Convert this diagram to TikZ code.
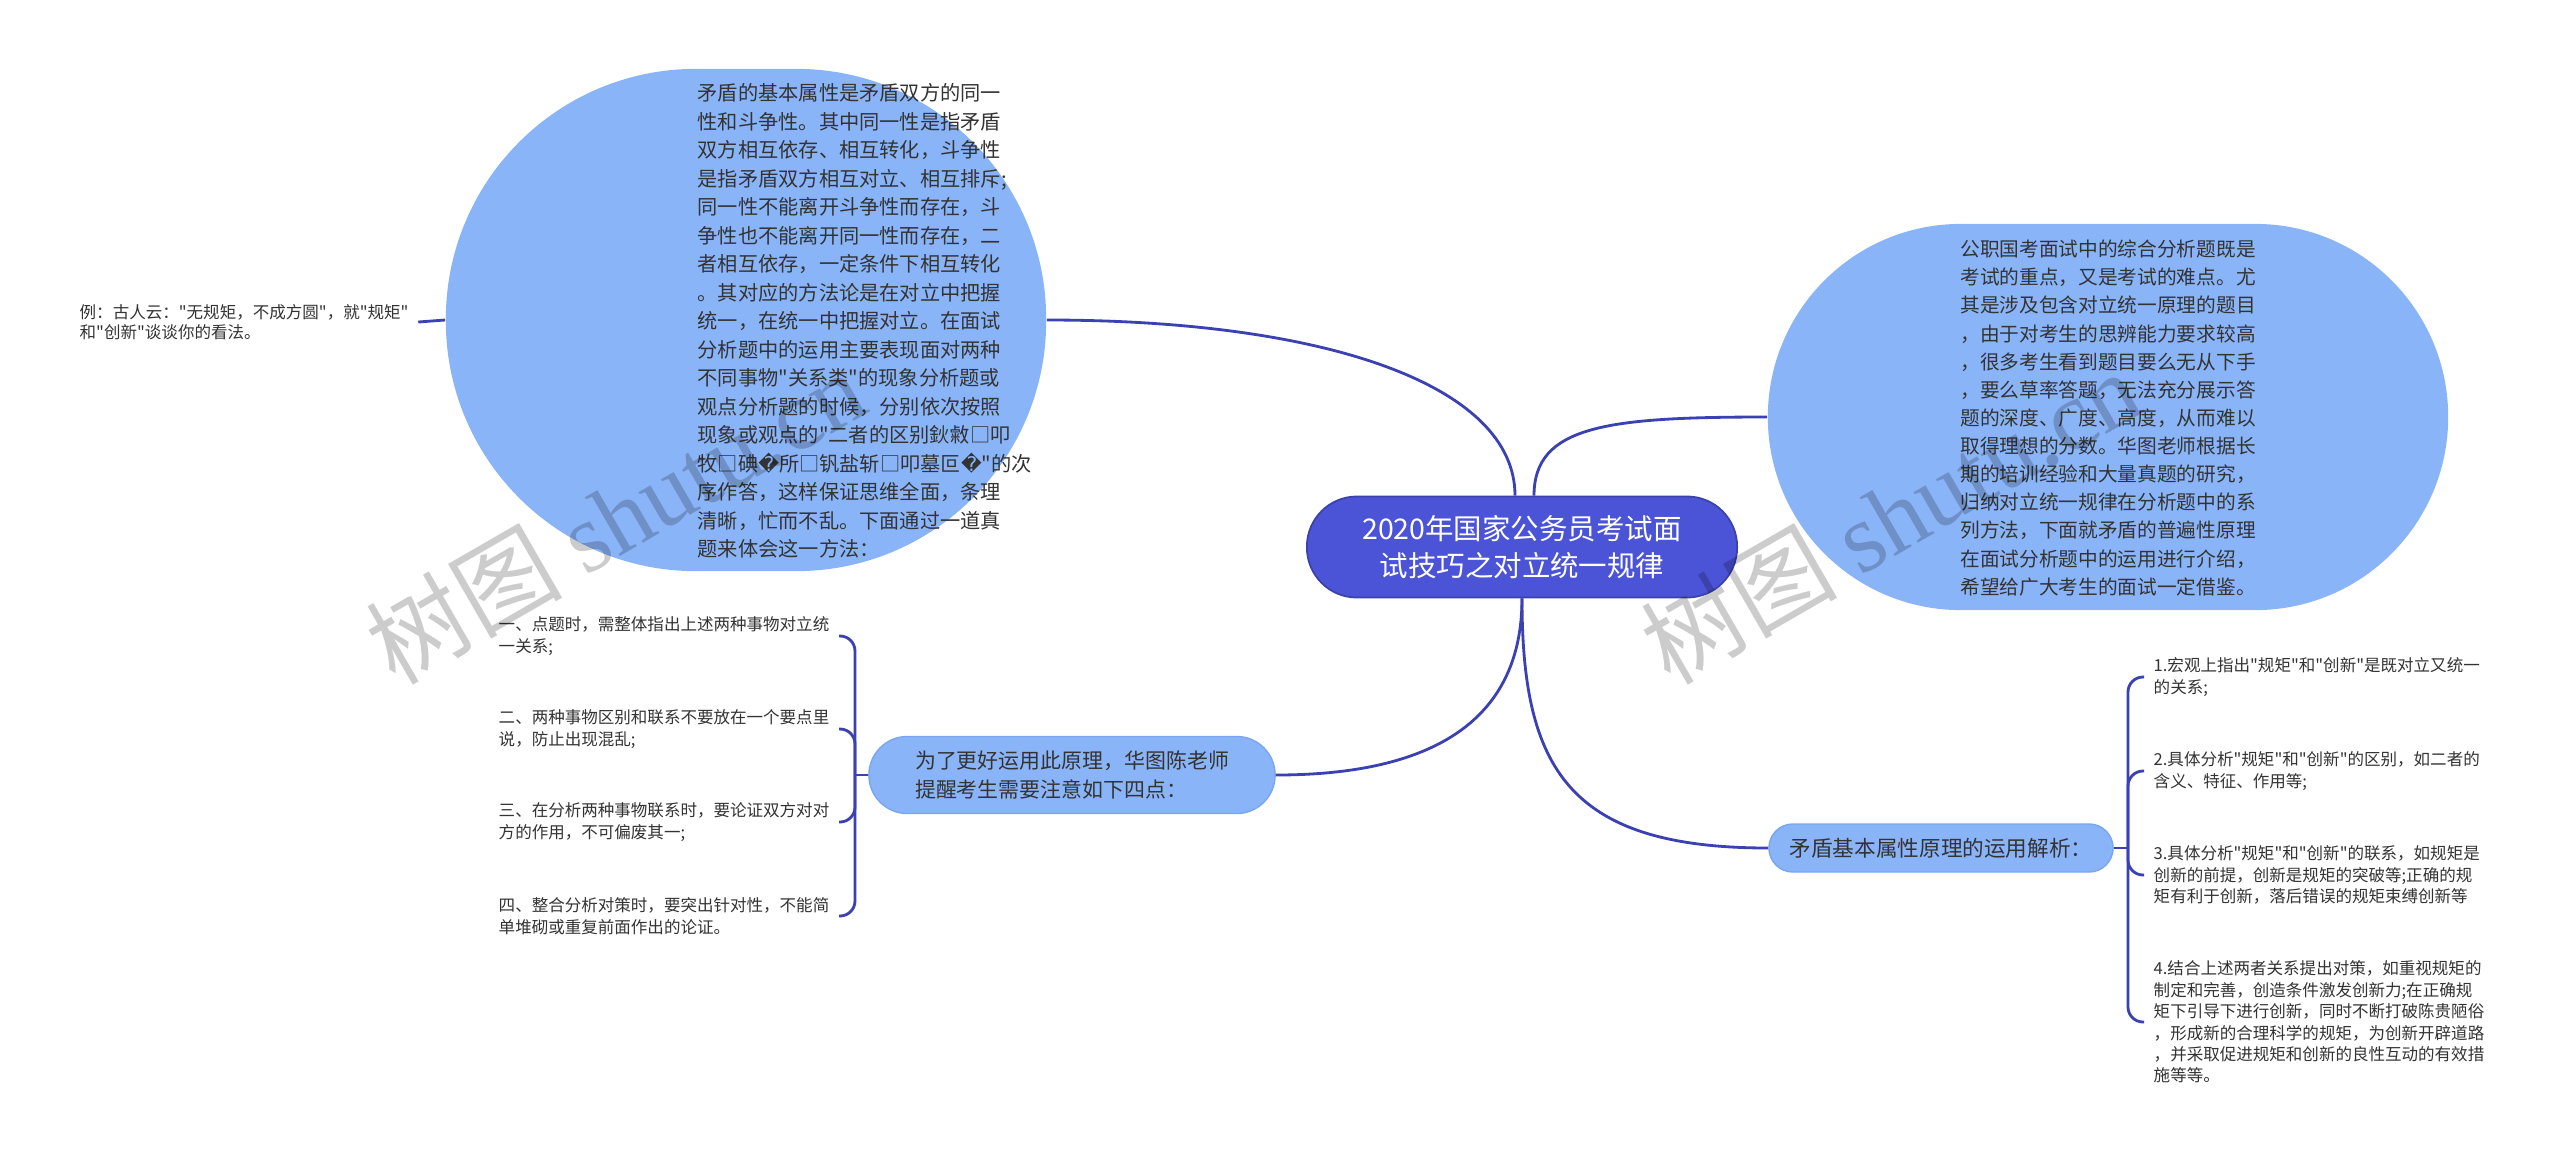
\documentclass[tikz,border=0pt]{standalone}
\usepackage{fontspec}
\newfontfamily\cjk{Noto Sans CJK SC}
\newfontfamily\repfont{DejaVu Sans}
\newfontfamily\wmfont{Liberation Serif}
\definecolor{bubblue}{HTML}{8AB4F8}
\definecolor{bubedge}{HTML}{7AA5F0}
\definecolor{rootblue}{HTML}{4B53D6}
\definecolor{linkblue}{HTML}{3B40B3}
\definecolor{inkgray}{HTML}{333333}
\newcommand{\badch}{{\repfont\char"FFFD}}
\tikzset{
  link/.style={draw=linkblue, line width=0.8pt},
  bubble/.style={fill=bubblue, inner sep=0pt},
  bubtext/.style={align=left, text=inkgray, inner sep=0pt, font=\cjk\fontsize{5.75pt}{8.1pt}\selectfont},
  midnode/.style={fill=bubblue, draw=bubedge, line width=0.4pt, align=left, text=inkgray},
  leaf/.style={align=left, text=inkgray, inner xsep=0.09cm, inner ysep=0.03cm, font=\cjk\fontsize{4.7pt}{6.1pt}\selectfont},
  wmark/.style={text=black, text opacity=0.2, font=\cjk\fontsize{28pt}{28pt}\selectfont, rotate=30, anchor=west},
}
\begin{document}
\cjk
\begin{tikzpicture}[x=0.01cm, y=-0.01cm]
  \fill[white] (0,0) rectangle (2560,1163);
  \useasboundingbox (0,0) rectangle (2560,1163);
  \coordinate (jL) at (855,775);
  \coordinate (jR) at (2128,848);

  \node[fill=rootblue, draw=rootblue!80!black, line width=0.5pt, rounded corners=0.5cm, minimum width=4.3cm, minimum height=1.01cm, align=center, text=white, font=\cjk\fontsize{8.1pt}{10.5pt}\selectfont] (root) at (1522,547) {2020年国家公务员考试面\\试技巧之对立统一规律};

  \node[bubble, rounded corners=2.5cm, minimum width=6.0cm, minimum height=5.02cm] (bubL) at (746,320) {};
  \node[bubtext, anchor=west] (bubLtxt) at (697,321) {矛盾的基本属性是矛盾双方的同一\\性和斗争性。其中同一性是指矛盾\\双方相互依存、相互转化，斗争性\\是指矛盾双方相互对立、相互排斥;\\同一性不能离开斗争性而存在，斗\\争性也不能离开同一性而存在，二\\者相互依存，一定条件下相互转化\\。其对应的方法论是在对立中把握\\统一，在统一中把握对立。在面试\\分析题中的运用主要表现面对两种\\不同事物"关系类"的现象分析题或\\观点分析题的时候，分别依次按照\\现象或观点的"二者的区别鈥敹□叩\\牧□碘\badch 所□钒盐斩□叩墓叵\badch"的次\\序作答，这样保证思维全面，条理\\清晰，忙而不乱。下面通过一道真\\题来体会这一方法：};
  \node[leaf, anchor=west, font=\cjk\fontsize{4.7pt}{5.7pt}\selectfont] (eg) at (70,322) {例：古人云："无规矩，不成方圆"，就"规矩"\\和"创新"谈谈你的看法。};

  \node[bubble, rounded corners=1.93cm, minimum width=6.8cm, minimum height=3.86cm] (bubR) at (2108,417) {};
  \node[bubtext, font=\cjk\fontsize{5.6pt}{8pt}\selectfont] (bubRtxt) at (2108,418) {公职国考面试中的综合分析题既是\\考试的重点，又是考试的难点。尤\\其是涉及包含对立统一原理的题目\\，由于对考生的思辨能力要求较高\\，很多考生看到题目要么无从下手\\，要么草率答题，无法充分展示答\\题的深度、广度、高度，从而难以\\取得理想的分数。华图老师根据长\\期的培训经验和大量真题的研究，\\归纳对立统一规律在分析题中的系\\列方法，下面就矛盾的普遍性原理\\在面试分析题中的运用进行介绍，\\希望给广大考生的面试一定借鉴。};

  \node[midnode, rounded corners=0.385cm, minimum width=4.06cm, minimum height=0.77cm, font=\cjk\fontsize{5.95pt}{8.25pt}\selectfont] (midL) at (1072,775) {为了更好运用此原理，华图陈老师\\提醒考生需要注意如下四点：};
  \node[midnode, rounded corners=0.24cm, minimum width=3.44cm, minimum height=0.48cm, font=\cjk\fontsize{6.15pt}{8pt}\selectfont] (midR) at (1941,848) {矛盾基本属性原理的运用解析：};

  \node[leaf, anchor=east] (tipA) at (839,636) {一、点题时，需整体指出上述两种事物对立统\\一关系;};
  \node[leaf, anchor=east] (tipB) at (839,729) {二、两种事物区别和联系不要放在一个要点里\\说，防止出现混乱;};
  \node[leaf, anchor=east] (tipC) at (839,822) {三、在分析两种事物联系时，要论证双方对对\\方的作用，不可偏废其一;};
  \node[leaf, anchor=east] (tipD) at (839,916) {四、整合分析对策时，要突出针对性，不能简\\单堆砌或重复前面作出的论证。};

  \node[leaf, anchor=west] (useA) at (2144,677) {1.宏观上指出"规矩"和"创新"是既对立又统一\\的关系;};
  \node[leaf, anchor=west] (useB) at (2144,771) {2.具体分析"规矩"和"创新"的区别，如二者的\\含义、特征、作用等;};
  \node[leaf, anchor=west] (useC) at (2144,875) {3.具体分析"规矩"和"创新"的联系，如规矩是\\创新的前提，创新是规矩的突破等;正确的规\\矩有利于创新，落后错误的规矩束缚创新等};
  \node[leaf, anchor=west] (useD) at (2144,1022) {4.结合上述两者关系提出对策，如重视规矩的\\制定和完善，创造条件激发创新力;在正确规\\矩下引导下进行创新，同时不断打破陈贵陋俗\\，形成新的合理科学的规矩，为创新开辟道路\\，并采取促进规矩和创新的良性互动的有效措\\施等等。};

  \draw[link] ([xshift=-0.07cm]root.north) .. controls +(0,-110) and +(280,0) .. (bubL.east);
  \draw[link] ([xshift=0.12cm]root.north) .. controls +(0,-70) and +(-160,0) .. (bubR.west);
  \draw[link] (root.south) .. controls +(0,120) and +(160,0) .. (midL.east);
  \draw[link] (root.south) .. controls +(0,170) and +(-200,0) .. (midR.west);
  \draw[link] (eg.east) -- (bubL.west);
  \draw[link] (midL.west) -- (jL);
  \draw[link] (midR.east) -- (jR);
  \foreach \t in {tipA,tipB,tipC,tipD}
    \draw[link, rounded corners=0.15cm] (jL) |- (\t.east);
  \foreach \u in {useA,useB,useC,useD}
    \draw[link, rounded corners=0.15cm] (jR) |- (\u.west);

  \node[wmark] (wmL) at (366,660) {树图 {\wmfont shutu.cn}};
  \node[wmark] (wmR) at (1641,660) {树图 {\wmfont shutu.cn}};
\end{tikzpicture}
\end{document}
